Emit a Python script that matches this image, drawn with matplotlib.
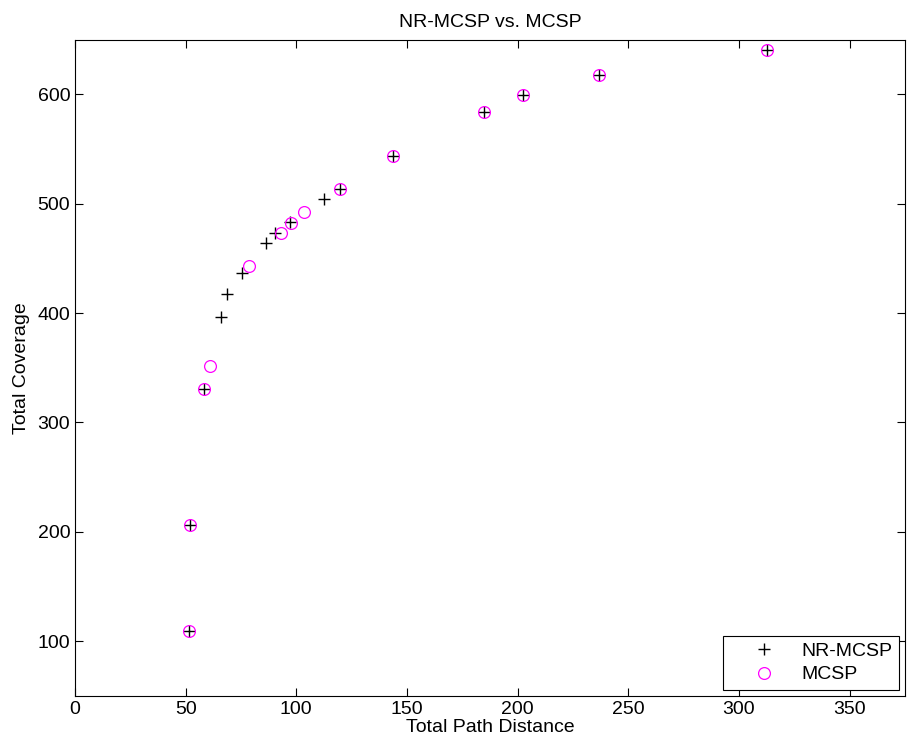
import matplotlib
matplotlib.use("Agg")
import matplotlib.pyplot as plt

# NR-MCSP results
nr_dist = [51.6, 52.0, 58.4, 66.1, 68.5, 75.4, 86.2, 90.4, 97.1, 112.4,
           119.6, 143.8, 184.7, 202.5, 236.6, 312.5]
nr_cov = [109, 206, 331, 396, 417, 437, 464, 473, 483, 504,
          513, 544, 584, 599, 618, 640]

# MCSP results
mc_dist = [51.6, 52.0, 58.4, 60.8, 78.6, 93.1, 97.7, 103.4,
           119.6, 143.8, 184.7, 202.5, 236.6, 312.5]
mc_cov = [109, 206, 331, 352, 443, 473, 482, 492,
          513, 544, 584, 599, 618, 640]

xticks = [0, 50, 100, 150, 200, 250, 300, 350]
yticks = [100, 200, 300, 400, 500, 600]

plt.rcParams['font.family'] = ['Liberation Sans', 'DejaVu Sans']
fs = 14

fig = plt.figure(figsize=(9.09, 7.46), dpi=100)
ax = fig.add_axes([0.0825, 0.067, 0.913, 0.880])

ax.plot(nr_dist, nr_cov, linestyle='none', marker='+', color='black',
        markersize=9, markeredgewidth=1.0, label='NR-MCSP')
ax.plot(mc_dist, mc_cov, linestyle='none', marker='o', color='#ff00ff',
        markerfacecolor='none', markersize=8.5, markeredgewidth=0.9, label='MCSP')

ax.set_xlim(0, 375)
ax.set_ylim(50, 650)
ax.set_xticks(xticks)
ax.set_yticks(yticks)
ax.tick_params(direction='in', length=6, top=True, right=True, width=0.8,
               labelsize=fs)
for s in ax.spines.values():
    s.set_linewidth(0.8)

ax.set_title('NR-MCSP vs. MCSP', fontsize=fs, pad=9)
ax.set_xlabel('Total Path Distance', fontsize=fs, labelpad=1)
ax.set_ylabel('Total Coverage', fontsize=fs, labelpad=5)

leg = ax.legend(loc='lower right', fancybox=False, framealpha=1,
                edgecolor='black', borderaxespad=0.3, borderpad=0.35,
                handletextpad=0.15, handlelength=3.5, labelspacing=0.3,
                fontsize=fs)
leg.get_frame().set_linewidth(0.8)

fig.savefig('out.png', dpi=100)
